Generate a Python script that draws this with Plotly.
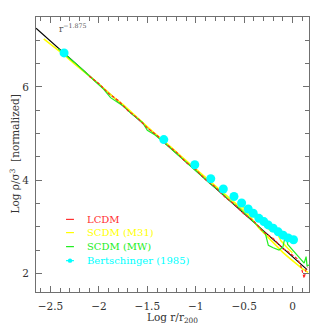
import plotly.graph_objects as go

# power-law reference line r^-1.875
fit_x = [-2.65, 0.15]
fit_y = [7.26, 2.08]

# Bertschinger (1985) self-similar solution
bert_x = [-2.36, -1.33, -1.01, -0.845, -0.715, -0.605, -0.526, -0.458, -0.406,
          -0.347, -0.296, -0.252, -0.200, -0.148, -0.097, -0.045, 0.01]
bert_y = [6.73, 4.87, 4.33, 4.03, 3.81, 3.65, 3.51, 3.38, 3.29,
          3.18, 3.11, 3.04, 2.97, 2.89, 2.82, 2.76, 2.72]

# LCDM
lcdm_x = [-2.10, -2.00, -1.90, -1.80, -1.70, -1.60, -1.50, -1.40, -1.30, -1.20,
          -1.10, -1.00, -0.90, -0.80, -0.70, -0.60, -0.50, -0.40, -0.30, -0.20,
          -0.10, -0.05, 0.00, 0.05, 0.08, 0.10, 0.12, 0.14, 0.16]
lcdm_y = [6.23, 6.07, 5.86, 5.71, 5.49, 5.33, 5.12, 4.96, 4.76, 4.60,
          4.38, 4.23, 4.01, 3.86, 3.64, 3.48, 3.27, 3.12, 2.89, 2.75,
          2.53, 2.47, 2.39, 2.31, 2.20, 2.05, 1.90, 2.10, 2.14]

# SCDM (M31)
m31_x = [-2.57, -2.45, -2.35, -2.25, -2.15, -2.05, -1.95, -1.85, -1.75, -1.65,
         -1.55, -1.45, -1.35, -1.25, -1.15, -1.05, -0.95, -0.85, -0.75, -0.65,
         -0.55, -0.45, -0.35, -0.30, -0.25, -0.20, -0.15, -0.10, -0.05, 0.00,
         0.05, 0.10, 0.16]
m31_y = [7.03, 6.84, 6.67, 6.49, 6.33, 6.15, 5.97, 5.78, 5.62, 5.42,
         5.24, 5.05, 4.88, 4.70, 4.51, 4.33, 4.16, 3.98, 3.79, 3.62,
         3.45, 3.25, 2.98, 2.87, 2.77, 2.66, 2.56, 2.45, 2.36, 2.27,
         2.19, 2.10, 2.02]
m31b_x = [-0.55, -0.45, -0.35, -0.28, -0.22, -0.18, -0.12, -0.05, 0.00]
m31b_y = [3.49, 3.31, 3.12, 3.00, 2.90, 2.95, 2.70, 2.54, 2.44]

# SCDM (MW)
mw_x = [-2.42, -2.35, -2.25, -2.15, -2.05, -1.95, -1.88, -1.82, -1.75, -1.65,
        -1.55, -1.50, -1.42, -1.35, -1.25, -1.15, -1.05, -0.95, -0.85, -0.75,
        -0.65, -0.55, -0.45, -0.38, -0.32, -0.28, -0.25, -0.20, -0.14, -0.10,
        -0.07, -0.05, 0.00, 0.05, 0.09, 0.12, 0.14, 0.15, 0.17]
mw_y = [6.82, 6.70, 6.52, 6.33, 6.13, 5.95, 5.77, 5.69, 5.59, 5.40,
        5.24, 5.07, 4.97, 4.85, 4.67, 4.47, 4.29, 4.11, 3.92, 3.76,
        3.56, 3.40, 3.20, 3.07, 2.94, 2.85, 2.60, 2.55, 2.50, 2.56,
        2.85, 2.62, 2.50, 2.40, 2.30, 2.22, 2.36, 2.16, 2.18]

legend_names = ["LCDM", "SCDM (M31)", "SCDM (MW)", "Bertschinger (1985)"]
legend_colors = ["#ff3030", "#ffff00", "#22ee22", "#00ffff"]

FONT = "DejaVu Serif"
AXIS = "#707070"

fig = go.Figure()
fig.add_trace(go.Scatter(x=fit_x, y=fit_y, mode="lines",
                         line=dict(color="black", width=1.2)))
fig.add_trace(go.Scatter(x=m31_x, y=m31_y, mode="lines",
                         line=dict(color="#ffff00", width=1.6)))
fig.add_trace(go.Scatter(x=m31b_x, y=m31b_y, mode="lines",
                         line=dict(color="#ffff00", width=1.4)))
fig.add_trace(go.Scatter(x=mw_x, y=mw_y, mode="lines",
                         line=dict(color="#22ee22", width=1.2)))
fig.add_trace(go.Scatter(x=lcdm_x, y=lcdm_y, mode="lines",
                         line=dict(color="#ff2020", width=1.2, dash="3px,2px")))
fig.add_trace(go.Scatter(x=bert_x, y=bert_y, mode="markers",
                         marker=dict(color="#00ffff", size=9)))

# hand-drawn legend, as in the original
ys = [0.264, 0.216, 0.165, 0.114]
for name, col, yy in zip(legend_names, legend_colors, ys):
    fig.add_shape(type="line", xref="paper", yref="paper",
                  x0=0.110, x1=0.139, y0=yy, y1=yy,
                  line=dict(color=col, width=1.2))
    fig.add_annotation(text=name, xref="paper", yref="paper", x=0.179, y=yy,
                       xanchor="left", yanchor="middle", showarrow=False,
                       font=dict(family=FONT, size=10, color=col))
fig.add_shape(type="circle", xref="paper", yref="paper",
              x0=0.1245 - 0.008, x1=0.1245 + 0.008, y0=0.114 - 0.008, y1=0.114 + 0.008,
              fillcolor="#00ffff", line=dict(width=0))

fig.add_annotation(text="r<sup>−1.875</sup>", x=-2.43, y=7.27, xanchor="left",
                   yanchor="middle", showarrow=False,
                   font=dict(family=FONT, size=9, color="#555555"))
fig.add_annotation(text="Log r/r<sub>200</sub>", xref="paper", yref="paper",
                   x=0.5, y=0, yshift=-26, xanchor="center", yanchor="middle",
                   showarrow=False, font=dict(family=FONT, size=10.5, color="#333333"))
fig.add_annotation(text="Log ρ/σ<sup>3</sup>  [normalized]", xref="paper", yref="paper",
                   x=0, xshift=-22, y=0.5, textangle=-90, xanchor="center",
                   yanchor="middle", showarrow=False,
                   font=dict(family=FONT, size=10.5, color="#333333"))

axis_common = dict(showgrid=False, zeroline=False, showline=True, linecolor=AXIS,
                   linewidth=1, mirror="ticks", ticks="inside", tickcolor=AXIS,
                   ticklen=6, tickwidth=1, automargin=False,
                   tickfont=dict(family=FONT, size=10.5, color="#333333"))
fig.update_xaxes(range=[-2.65, 0.17], dtick=0.5, tick0=0, ticklabelstandoff=4,
                 minor=dict(dtick=0.1, tick0=0, ticks="inside", ticklen=4,
                            tickcolor=AXIS),
                 **axis_common)
fig.update_yaxes(range=[1.6, 7.5], dtick=2, tick0=0, ticklabelstandoff=4,
                 minor=dict(dtick=0.5, tick0=0, ticks="inside", ticklen=4,
                            tickcolor=AXIS),
                 **axis_common)
# the page body adds an 8px margin, so the figure is 8px smaller
fig.update_layout(width=319, height=319, showlegend=False,
                  plot_bgcolor="white", paper_bgcolor="white",
                  margin=dict(l=28, r=18, t=9, b=35))
fig.write_html("out.html")
